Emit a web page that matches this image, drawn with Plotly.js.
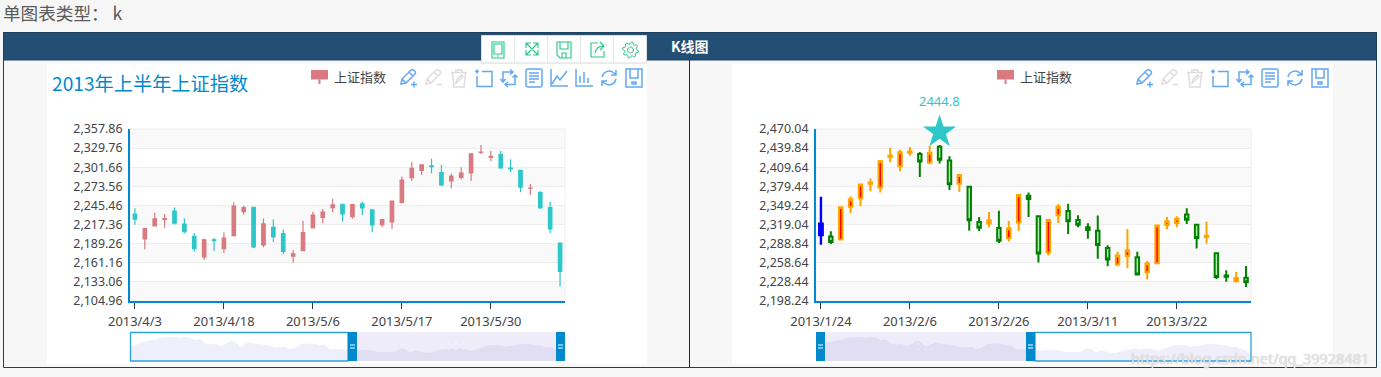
<!DOCTYPE html>
<html><head><meta charset="utf-8">
<script src="https://cdn.plot.ly/plotly-3.0.1.min.js"></script>
<style>html,body{margin:0;padding:0;background:#f6f6f6;overflow:hidden}#c{width:1381px;height:377px}</style>
</head><body><div id="c"></div>
<script>
// ---------- data ----------
const dates = ['2013/1/24','2013/1/25','2013/1/28','2013/1/29','2013/1/30','2013/1/31','2013/2/1','2013/2/4','2013/2/5','2013/2/6','2013/2/7','2013/2/8','2013/2/18','2013/2/19','2013/2/20','2013/2/21','2013/2/22','2013/2/25','2013/2/26','2013/2/27','2013/2/28','2013/3/1','2013/3/4','2013/3/5','2013/3/6','2013/3/7','2013/3/8','2013/3/11','2013/3/12','2013/3/13','2013/3/14','2013/3/15','2013/3/18','2013/3/19','2013/3/20','2013/3/21','2013/3/22','2013/3/25','2013/3/26','2013/3/27','2013/3/28','2013/3/29','2013/4/1','2013/4/2','2013/4/3','2013/4/8','2013/4/9','2013/4/10','2013/4/11','2013/4/12','2013/4/15','2013/4/16','2013/4/17','2013/4/18','2013/4/19','2013/4/22','2013/4/23','2013/4/24','2013/4/25','2013/4/26','2013/5/2','2013/5/3','2013/5/6','2013/5/7','2013/5/8','2013/5/9','2013/5/10','2013/5/13','2013/5/14','2013/5/15','2013/5/16','2013/5/17','2013/5/20','2013/5/21','2013/5/22','2013/5/23','2013/5/24','2013/5/27','2013/5/28','2013/5/29','2013/5/30','2013/5/31','2013/6/3','2013/6/4','2013/6/5','2013/6/6','2013/6/7','2013/6/13'];
const opens = [2320.26,2300,2295.35,2347.22,2360.75,2383.43,2377.41,2425.92,2411,2432.68,2430.69,2416.62,2441.91,2420.26,2383.49,2378.82,2322.94,2320.62,2313.74,2297.77,2322.32,2364.54,2332.08,2274.81,2333.61,2340.44,2326.42,2314.68,2309.16,2282.17,2255.77,2269.31,2267.29,2244.26,2257.74,2318.21,2321.4,2334.74,2318.58,2299.38,2273.55,2238.49,2229.46,2234.9,2232.69,2196.24,2215.47,2224.93,2236.98,2218.09,2199.91,2169.63,2195.03,2181.82,2201.12,2236.4,2242.62,2187.35,2213.19,2203.89,2170.78,2179.05,2212.5,2227.86,2242.39,2246.96,2228.82,2247.68,2238.9,2217.09,2221.34,2249.81,2286.33,2297.11,2303.75,2293.81,2281.45,2286.66,2293.4,2323.54,2316.25,2320.74,2300.21,2297.1,2270.71,2264.43,2242.26,2190.1];
const closes = [2302.6,2291.3,2346.5,2358.98,2382.48,2385.42,2419.02,2428.15,2433.13,2434.48,2418.53,2432.4,2421.56,2382.91,2397.18,2325.95,2314.16,2325.82,2293.34,2313.22,2365.59,2359.51,2273.4,2326.31,2347.18,2324.29,2318.61,2310.59,2286.6,2263.97,2270.28,2278.4,2240.02,2257.43,2317.37,2324.24,2328.28,2326.72,2297.67,2301.26,2236.3,2236.62,2234.4,2227.74,2225.29,2211.59,2225.77,2226.13,2219.55,2206.78,2181.94,2194.85,2193.8,2197.6,2244.64,2242.17,2184.54,2218.32,2199.31,2177.91,2174.12,2205.5,2231.17,2235.57,2246.3,2232.97,2246.83,2241.92,2217.01,2224.8,2251.81,2282.87,2299.99,2305.11,2302.4,2275.67,2288.53,2293.08,2321.32,2324.02,2317.75,2300.59,2299.25,2272.42,2270.93,2242.11,2210.9,2148.35];
const lows = [2287.3,2288.26,2295.35,2337.35,2347.89,2371.23,2369.57,2417.58,2403.3,2427.7,2394.22,2414.4,2415.43,2373.53,2370.61,2309.17,2308.76,2315.01,2289.89,2292.03,2308.92,2330.86,2259.25,2270.1,2321.6,2304.27,2314.59,2296.58,2264.83,2253.25,2253.31,2250,2239.21,2232.02,2257.42,2311.6,2314.97,2319.91,2281.12,2289,2232.91,2228.81,2227.31,2220.44,2217.25,2180.67,2215.47,2212.56,2217.26,2204.44,2177.39,2165.78,2178.47,2175.44,2200.58,2232.26,2182.81,2184.11,2191.85,2173.86,2161.14,2179.05,2212.5,2219.44,2235.42,2221.38,2225.81,2231.36,2205.87,2213.58,2210.77,2248.41,2281.9,2290.12,2292.43,2274.1,2270.25,2283.94,2281.47,2321.17,2310.49,2299.37,2294.11,2264.76,2260.87,2240.07,2205.07,2126.22];
const highs = [2362.94,2308.38,2346.92,2363.8,2383.76,2391.82,2421.15,2440.38,2437.42,2441.73,2433.89,2443.03,2444.8,2427.07,2397.94,2378.82,2330.88,2338.78,2340.71,2324.63,2366.16,2369.65,2333.54,2328.14,2351.44,2352.02,2333.67,2320.96,2333.29,2286.33,2276.22,2312.08,2276.05,2261.31,2317.86,2330.81,2332,2344.89,2319.99,2323.48,2273.55,2246.87,2243.95,2253.42,2241.34,2212.59,2234.73,2233.04,2242.48,2226.26,2204.99,2196.43,2197.51,2206.03,2250.11,2245.12,2242.62,2226.12,2224.63,2210.58,2179.65,2222.81,2236.07,2240.26,2255.21,2247.86,2247.67,2250.85,2239.93,2225.19,2252.87,2288.09,2309.39,2305.3,2314.18,2304.95,2292.59,2301.7,2322.1,2334.33,2325.72,2325.53,2313.43,2297.1,2276.86,2266.69,2250.63,2190.1];
const splitAt = 44;
const yTicksLeft = [2104.96,2133.06,2161.16,2189.26,2217.36,2245.46,2273.56,2301.66,2329.76,2357.86];
const yTicksRight = [2198.24,2228.44,2258.64,2288.84,2319.04,2349.24,2379.44,2409.64,2439.84,2470.04];
const xTicksLeft = ['2013/4/3','2013/4/18','2013/5/6','2013/5/17','2013/5/30'];
const xTicksRight = ['2013/1/24','2013/2/6','2013/2/26','2013/3/11','2013/3/22'];
const chartTitle = '2013年上半年上证指数';
const seriesName = '上证指数';
const pageHeading = '单图表类型： k';
const barTitle = 'K线图';
const markDate = '2013/2/18';
const markValue = 2444.8;
const watermark = 'https://blog.csdn.net/qq_39928481';

// ---------- page helpers ----------
const W = 1381, H = 377;
const fx = x => x / W, fy = y => 1 - y / H;
const shapes = [], annotations = [];
function rect(x0, y0, x1, y1, fill, line, lw, layer) {
  shapes.push({type:'rect', xref:'paper', yref:'paper', x0:fx(x0), x1:fx(x1), y0:fy(y0), y1:fy(y1),
    fillcolor:fill||'rgba(0,0,0,0)', line:{color:line||'rgba(0,0,0,0)', width:line?(lw||1):0}, layer:layer||'below'});
}
function label(x, y, text, size, color, anchor, family, extra) {
  annotations.push(Object.assign({xref:'paper', yref:'paper', x:fx(x), y:fy(y), text, showarrow:false,
    xanchor:anchor||'left', yanchor:'middle', borderpad:0, borderwidth:0,
    font:{size, color, family:family||'"Noto Sans CJK SC","Noto Sans",sans-serif'}}, extra||{}));
}
// local path (18x18 box) to paper path
function drawPath(d, ox, oy, color, w, fill) {
  let odd = true;
  const p = d.replace(/-?\d+(\.\d+)?/g, m => {
    const v = parseFloat(m); const r = odd ? fx(ox + v) : fy(oy + v); odd = !odd; return r.toFixed(5);
  });
  shapes.push({type:'path', xref:'paper', yref:'paper', path:p, layer:'above',
    fillcolor:fill||'rgba(0,0,0,0)', line:{color, width:w===undefined?1.5:w}});
}
function circle(cx, cy, r) {
  const k = r * 0.5523;
  return `M${cx+r} ${cy} C${cx+r} ${cy+k} ${cx+k} ${cy+r} ${cx} ${cy+r} C${cx-k} ${cy+r} ${cx-r} ${cy+k} ${cx-r} ${cy} C${cx-r} ${cy-k} ${cx-k} ${cy-r} ${cx} ${cy-r} C${cx+k} ${cy-r} ${cx+r} ${cy-k} ${cx+r} ${cy} Z`;
}
const ICONS = {
  pencilAdd: 'M1 15 L2 10 L11 1 Q13 0 15 2 Q16 4 15 5 L6 14 Z M2 10 L6 14 M9 3 L13 7 M11 15.5 L17 15.5 M14 12.5 L14 18.5',
  pencilDel: 'M1 15 L2 10 L11 1 Q13 0 15 2 Q16 4 15 5 L6 14 Z M2 10 L6 14 M9 3 L13 7 M12 15.5 L17 15.5',
  trash: 'M1 3.5 L17 3.5 M6 3.5 L6 1 L12 1 L12 3.5 M2.5 3.5 L4 18 L14 18 L15.5 3.5 M6 14 L7 10.5 L11.5 6 L13 7.5 L8.5 12 Z',
  crop: 'M0 2.5 L4 2.5 M2 0.5 L2 4.5 M7 2.5 L17 2.5 L17 17.5 L2 17.5 L2 7',
  swap: 'M13 3 L3 3 L3 13 M10 0.5 L13 3 L10 5.5 M0.5 10 L3 13 L5.5 10 M5 15.5 L15 15.5 L15 6 M8 13 L5 15.5 L8 18 M12.5 8.5 L15 6 L17.5 8.5',
  doc: 'M1 2 Q1 0 3 0 L15 0 Q17 0 17 2 L17 16 Q17 18 15 18 L3 18 Q1 18 1 16 Z M4 4 L14 4 M4 7 L14 7 M4 10 L14 10 M4 13 L10 13',
  line: 'M1 0 L1 17 L18 17 M2 15 L7 7 L10 11 L17 2',
  bar: 'M1 0 L1 17 L18 17 M5 14 L5 7 M9 14 L9 3 M13 14 L13 9',
  refresh: 'M2 8 C3 3 9 0 14 4 L16 6 M16 1 L16 6 L11 6 M16 10 C15 15 9 18 4 14 L2 12 M2 17 L2 12 L7 12',
  save: 'M1 0 L17 0 L17 18 L1 18 Z M5 0 L5 9 L13 9 L13 0 M7 13 L11 13 L11 15 L7 15 Z',
  tablet: 'M2 1 L14 1 L14 17 L2 17 Z M4 3 L12 3 L12 13 L4 13 Z M7 15 L9 15',
  expand: 'M2 2 L14 14 M14 2 L2 14 M2 7 L2 2 L7 2 M9 2 L14 2 L14 7 M14 9 L14 14 L9 14 M7 14 L2 14 L2 9',
  disk: 'M1 1 L15 1 L15 17 L4 17 L1 14 Z M4 1 L4 8 L12 8 L12 1 M6 12 L10 12 L10 17 L6 17 Z',
  share: 'M9 2 L2 2 L2 16 L15 16 L15 10 M6 12 C7 7 9 5 14 5 M11 1 L15 5 L11 9',
};
function gear(ox, oy, color) {
  const pts = [], n = 8;
  for (let i = 0; i < n * 4; i++) {
    const a = (i + 0.5) / (n * 4) * Math.PI * 2 ;
    const r = (i % 4 < 2) ? 8 : 6;
    pts.push((8 + r * Math.cos(a)).toFixed(2) + ' ' + (8 + r * Math.sin(a)).toFixed(2));
  }
  drawPath('M' + pts.join(' L') + ' Z ' + circle(8, 8, 3), ox, oy, color, 1);
}

// ---------- page furniture ----------
const FRAME = '#1d3f5e';
rect(3.5, 32.5, 1376.5, 367.5, '#f7f7f7', FRAME, 1);
rect(3.5, 32.5, 1376.5, 60, '#244f74', FRAME, 1);
shapes.push({type:'line', xref:'paper', yref:'paper', x0:fx(689.5), x1:fx(689.5), y0:fy(60), y1:fy(367), line:{color:'#1a2c3f', width:1}, layer:'below'});
rect(47, 64, 647, 364, '#ffffff');
rect(732, 64, 1333, 364, '#ffffff');
label(3, 13, pageHeading, 17.6, '#5a5a5a');
label(690, 46, barTitle, 14, '#ffffff', 'center', null, {font:{size:14, color:'#ffffff', family:'"Noto Sans CJK SC",sans-serif', weight:700}});

// top toolbar
rect(481.5, 35.5, 646.5, 63, '#ffffff', '#dddddd', 1, 'above');
for (let i = 1; i < 5; i++) shapes.push({type:'line', xref:'paper', yref:'paper', x0:fx(481.5+33*i), x1:fx(481.5+33*i), y0:fy(35.5), y1:fy(63), line:{color:'#e8e8e8', width:1}, layer:'above'});
const GREEN = '#22c983';
drawPath(ICONS.tablet, 490, 41, GREEN, 1.1);
drawPath(ICONS.expand, 524, 41, GREEN, 1.1);
drawPath(ICONS.disk, 556, 41, GREEN, 1.1);
drawPath(ICONS.share, 589, 41, GREEN, 1.1);
gear(622.5, 42, GREEN);

// chart headers
label(52, 83, chartTitle, 19.2, '#008acd');
function legendMark(x, y) {
  rect(x, y, x + 17, y + 9.5, '#d87a80');
  rect(x + 7.5, y + 9.5, x + 9.5, y + 14, '#d87a80');
}
legendMark(311, 70); label(334, 76.5, seriesName, 13, '#444444');
legendMark(997, 70); label(1020, 76.5, seriesName, 13, '#444444');

const BLUE = '#62a8f5', GREY = '#dddddd';
[['pencilAdd',400,BLUE],['pencilDel',425,GREY],['trash',450,GREY],['crop',475,BLUE],['swap',500,BLUE],['doc',525,BLUE],['line',550,BLUE],['bar',575,BLUE],['refresh',600,BLUE],['save',625,BLUE]]
  .forEach(([k,x,c]) => drawPath(ICONS[k], x, 69, c));
[['pencilAdd',1136,BLUE],['pencilDel',1161,GREY],['trash',1186,GREY],['crop',1211,BLUE],['swap',1236,BLUE],['doc',1261,BLUE],['refresh',1286,BLUE],['save',1311,BLUE]]
  .forEach(([k,x,c]) => drawPath(ICONS[k], x, 69, c));

// ---------- plot geometry ----------
const leftBox = {x0:130, x1:565, y0:129, y1:301};
const rightBox = {x0:816, x1:1251, y0:129, y1:301};
const miniY = {y0:332, y1:361};
const dom = (a, b) => [a / W, b / W];
const domY = (t, b) => [1 - b / H, 1 - t / H];
const FONT = {family:'"Noto Sans",sans-serif', size:12.4, color:'#444444'};
const XFONT = {family:'"Noto Sans",sans-serif', size:12.9, color:'#444444'};
function xAxis(box, ticks, anchor, cats) {
  return {type:'category', categoryorder:'array', categoryarray:cats, domain:dom(box.x0, box.x1), anchor, range:[-0.5, 43.5], fixedrange:true,
    tickmode:'array', tickvals:ticks, ticktext:ticks, ticks:'outside', ticklen:6, tickwidth:1, tickcolor:'#333333',
    showgrid:false, showline:true, linecolor:'#008acd', linewidth:2, tickfont:XFONT, rangeslider:{visible:false}, zeroline:false, ticklabelstandoff:2};
}
function yAxis(box, ticks, anchor) {
  return {domain:domY(box.y0, box.y1), anchor, range:[ticks[0], ticks[ticks.length-1]], fixedrange:true,
    tickmode:'array', tickvals:ticks, tickformat:',.2f', ticks:'', showgrid:true, gridcolor:'#eeeeee', gridwidth:1,
    showline:true, linecolor:'#008acd', linewidth:2, tickfont:FONT, zeroline:false, ticklabelstandoff:3};
}
function miniX(box, anchor) { return {domain:dom(box.x0, box.x1), anchor, range:[0, dates.length-1], visible:false, fixedrange:true}; }
function miniYAxis(anchor) { return {domain:domY(miniY.y0, miniY.y1), anchor, range:[2047, 2514], visible:false, fixedrange:true}; }

// split-area bands from the ticks
function bands(ticks, xref, yref) {
  for (let i = 0; i < ticks.length - 1; i += 2) {
    shapes.push({type:'rect', xref:xref+' domain', yref, x0:0, x1:1, y0:ticks[i], y1:ticks[i+1], fillcolor:'#f9f9f9', line:{width:0}, layer:'below'});
  }
  shapes.push({type:'rect', xref:xref+' domain', yref:yref+' domain', x0:0, x1:1, y0:0, y1:1, fillcolor:'rgba(0,0,0,0)', line:{color:'#eeeeee', width:1}, layer:'below'});
}
bands(yTicksLeft, 'x', 'y');
bands(yTicksRight, 'x2', 'y2');

// ---------- traces ----------
const leftDates = dates.slice(splitAt);
const rightDates = dates.slice(0, splitAt);
const cut = (arr, a, b) => arr.slice(a, b);
const traces = [];
traces.push({type:'candlestick', name:seriesName, xaxis:'x', yaxis:'y', x:leftDates,
  open:cut(opens,splitAt), close:cut(closes,splitAt), low:cut(lows,splitAt), high:cut(highs,splitAt),
  whiskerwidth:0, showlegend:false, hoverinfo:'skip',
  increasing:{line:{color:'#d87a80', width:1.2}, fillcolor:'#d87a80'},
  decreasing:{line:{color:'#2ec7c9', width:1.2}, fillcolor:'#2ec7c9'}});
traces.push({type:'candlestick', name:seriesName, xaxis:'x2', yaxis:'y2', x:cut(dates,1,splitAt),
  open:cut(opens,1,splitAt), close:cut(closes,1,splitAt), low:cut(lows,1,splitAt), high:cut(highs,1,splitAt),
  whiskerwidth:0, showlegend:false, hoverinfo:'skip',
  increasing:{line:{color:'#ffa500', width:2}, fillcolor:'#ff0000'},
  decreasing:{line:{color:'#008000', width:2}, fillcolor:'#b6e8b6'}});
traces.push({type:'candlestick', name:seriesName, xaxis:'x2', yaxis:'y2', x:cut(dates,0,1),
  open:cut(opens,0,1), close:cut(closes,0,1), low:cut(lows,0,1), high:cut(highs,0,1),
  whiskerwidth:0, showlegend:false, hoverinfo:'skip',
  increasing:{line:{color:'#0000ff', width:2.4}, fillcolor:'#0000ff'},
  decreasing:{line:{color:'#0000ff', width:2.4}, fillcolor:'#0000ff'}});
// highest-point mark: star lifted above the value, label above it
traces.push({type:'scatter', mode:'markers', xaxis:'x2', yaxis:'y2', x:[markDate], y:[markValue + 20.5], cliponaxis:false,
  marker:{symbol:'star', size:25, color:'#2ec7c9', line:{width:0}}, showlegend:false, hoverinfo:'skip'});
annotations.push({xref:'x2', yref:'y2', x:markDate, y:markValue, yshift:44, text:String(markValue), showarrow:false,
  xanchor:'center', yanchor:'middle', font:{family:'"Noto Sans",sans-serif', size:13, color:'#2ec7c9'}});
// data-zoom previews
[['x3','y3'],['x4','y4']].forEach(([xa,ya]) => traces.push({type:'scatter', mode:'none', xaxis:xa, yaxis:ya,
  x:dates.map((d,i)=>i), y:closes, fill:'tozeroy', fillcolor:'#efeefb', showlegend:false, hoverinfo:'skip'}));

// ---------- data zoom furniture ----------
function zoomFrame(frameX0, frameX1, fillX0, fillX1, handles) {
  rect(fillX0, miniY.y0, fillX1, miniY.y1, 'rgba(170,160,220,0.2)', null, 0, 'above');
  rect(frameX0, miniY.y0 + .5, frameX1, miniY.y1, 'rgba(0,0,0,0)', '#2ba2da', 1.3, 'above');
  handles.forEach(hx => {
    rect(hx, miniY.y0, hx + 9, miniY.y1, '#008acd', null, 0, 'above');
    rect(hx + 2, miniY.y0 + 12.5, hx + 7, miniY.y0 + 13.5, '#ffffff', null, 0, 'above');
    rect(hx + 2, miniY.y0 + 15.5, hx + 7, miniY.y0 + 16.5, '#ffffff', null, 0, 'above');
  });
  const mid = (fillX0 + fillX1) / 2;
  [-8, -1, 6].forEach(dx => [-3, 3].forEach(dy => rect(mid+dx, 346+dy, mid+dx+1, 346+dy+1, 'rgba(255,255,255,.8)', null, 0, 'above')));
}
zoomFrame(130.5, 348, 357, 556, [348, 556]);
zoomFrame(1035, 1251, 825, 1026, [816, 1026]);

label(1131, 358, watermark, 14.5, 'rgba(235,235,235,0.9)', 'left', '"Noto Sans",sans-serif');
annotations[annotations.length-1].font.shadow = '0 0 1px #aaaaaa';

// ---------- layout ----------
const layout = {
  width:W, height:H, margin:{l:0, r:0, t:0, b:0}, paper_bgcolor:'#f6f6f6', plot_bgcolor:'#ffffff',
  showlegend:false, boxgap:0.5, dragmode:false, hovermode:false,
  xaxis:xAxis(leftBox, xTicksLeft, 'y', leftDates), yaxis:yAxis(leftBox, yTicksLeft, 'x'),
  xaxis2:xAxis(rightBox, xTicksRight, 'y2', rightDates), yaxis2:yAxis(rightBox, yTicksRight, 'x2'),
  xaxis3:miniX(leftBox, 'y3'), yaxis3:miniYAxis('x3'),
  xaxis4:miniX(rightBox, 'y4'), yaxis4:miniYAxis('x4'),
  shapes, annotations,
};
Plotly.newPlot('c', traces, layout, {displayModeBar:false, staticPlot:true, responsive:false});
</script>
</body></html>
